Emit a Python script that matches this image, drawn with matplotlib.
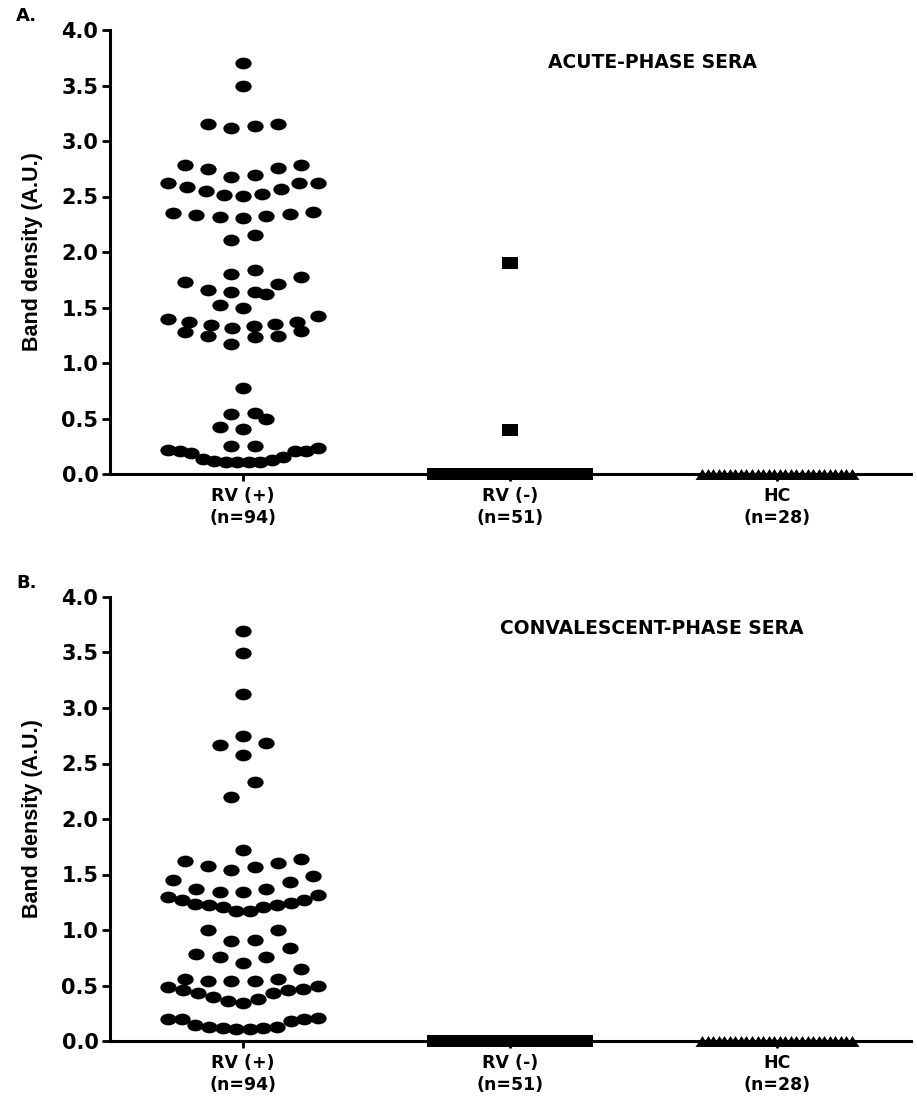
import numpy as np
import matplotlib
matplotlib.use("Agg")
import matplotlib.pyplot as plt
from matplotlib.path import Path

# --- data ---------------------------------------------------------------
GROUPS = ["RV (+)\n(n=94)", "RV (-)\n(n=51)", "HC\n(n=28)"]

acute_rv_pos = [
    3.70, 3.50, 3.157, 3.118, 3.133, 3.157,
    2.784, 2.754, 2.697, 2.673, 2.745, 2.784,
    2.626, 2.620, 2.566, 2.524, 2.506, 2.515, 2.554, 2.584, 2.626,
    2.351, 2.333, 2.312, 2.303, 2.321, 2.345, 2.363,
    2.112, 2.151,
    1.772, 1.841, 1.802, 1.731, 1.713, 1.638, 1.644, 1.662, 1.623, 1.527, 1.491,
    1.422, 1.371, 1.353, 1.332, 1.341, 1.371, 1.392,
    1.287, 1.243, 1.234, 1.168, 1.243, 1.281, 1.311,
    0.778, 0.545, 0.554, 0.419, 0.404, 0.500, 0.249, 0.249,
    0.219, 0.210, 0.189, 0.129, 0.114, 0.105, 0.105, 0.105, 0.111, 0.135,
    0.150, 0.210, 0.210, 0.234,
]
acute_rv_neg = [1.90, 0.40] + [0.0] * 49
acute_hc = [0.0] * 28

conv_rv_pos = [
    3.69, 3.494, 3.123,
    2.749, 2.683, 2.668, 2.578,
    2.332, 2.195,
    1.725,
    1.638, 1.602, 1.566, 1.542, 1.581, 1.626,
    1.485, 1.431, 1.452, 1.371, 1.341, 1.341, 1.371, 1.311, 1.296,
    1.272, 1.237, 1.228, 1.207, 1.168, 1.168, 1.207, 1.222, 1.243, 1.272,
    1.00, 1.00, 0.898, 0.907,
    0.781, 0.757, 0.707, 0.757, 0.838,
    0.653,
    0.563, 0.539, 0.539, 0.539, 0.557,
    0.488, 0.458, 0.428, 0.392, 0.362, 0.344, 0.377, 0.428, 0.458, 0.467, 0.497,
    0.195, 0.145, 0.130, 0.115, 0.200, 0.110, 0.110, 0.210, 0.120, 0.130,
    0.180, 0.195,
]
conv_rv_neg = [0.0] * 51
conv_hc = [0.0] * 28

# --- markers (the original figure is stretched horizontally) --------------
circ = Path.unit_circle()
ELLIPSE = Path(circ.vertices * [1.0, 0.72], circ.codes)
RECT = Path([(-1, -0.745), (1, -0.745), (1, 0.745), (-1, 0.745), (-1, -0.745)],
            [Path.MOVETO, Path.LINETO, Path.LINETO, Path.LINETO, Path.CLOSEPOLY])
TRI = Path([(-1, -0.785), (1, -0.785), (0, 0.785), (-1, -0.785)],
           [Path.MOVETO, Path.LINETO, Path.LINETO, Path.CLOSEPOLY])

PX_PER_X = 267.0          # pixels between category centres
SLOT = 23.3 / PX_PER_X    # spacing between neighbouring dots
MAX_HALF = 75.0 / PX_PER_X


def swarm_offsets(values, row_h):
    """Prism-like dot rows: lowest value in the middle, squeezed if too wide."""
    vals = np.asarray(values, dtype=float)
    order = np.argsort(vals, kind="stable")
    offs = np.zeros(len(vals))
    i = 0
    while i < len(order):
        start = vals[order[i]]
        j = i
        while j < len(order) and vals[order[j]] - start <= row_h:
            j += 1
        idx = order[i:j]
        n = len(idx)
        step = SLOT if n == 1 else min(SLOT, 2 * MAX_HALF / (n - 1))
        pos = (np.arange(n) - (n - 1) / 2) * step
        pos = pos[np.argsort(np.abs(pos) + 1e-9 * pos, kind="stable")]
        offs[idx] = pos
        i = j
    return offs


W, H = 917, 1110
fig = plt.figure(figsize=(W / 100, H / 100), dpi=100)
TXT = "DejaVu Sans"


def panel(bottom_px, series, row_h, title, letter, letter_y):
    ax = fig.add_axes([109.5 / W, 1 - bottom_px / H, 801 / W, 444 / H])
    markers = [(ELLIPSE, 138), (RECT, 128), (TRI, 100)]
    for k, vals in enumerate(series):
        m, s = markers[k]
        x = k + swarm_offsets(vals, row_h)
        ax.scatter(x, vals, marker=m, s=s, c="black", linewidths=0,
                   clip_on=False, zorder=3)
    ax.set_xlim(-0.5, 2.5)
    ax.set_ylim(0, 4)
    ax.set_yticks(np.arange(0, 4.01, 0.5))
    ax.set_yticklabels([f"{v:.1f}" for v in np.arange(0, 4.01, 0.5)],
                       family=TXT, fontweight="bold", fontsize=15)
    ax.set_xticks([0, 1, 2])
    ax.set_xticklabels(GROUPS, family=TXT, fontweight="bold", fontsize=12.5,
                       linespacing=1.3)
    for sp in ("top", "right"):
        ax.spines[sp].set_visible(False)
    for sp in ("left", "bottom"):
        ax.spines[sp].set_linewidth(2.2)
    ax.tick_params(axis="y", length=6, width=2, pad=2)
    ax.tick_params(axis="x", length=5, width=2, pad=4)
    ax.set_ylabel("Band density (A.U.)", family="Liberation Sans",
                  fontweight="bold", fontsize=15.5)
    ax.yaxis.set_label_coords(-0.083, 0.5)
    fig.text(652 / W, 1 - (bottom_px - 412) / H, title, ha="center", va="center",
             family=TXT, fontweight="bold", fontsize=13.5)
    fig.text(16 / W, 1 - letter_y / H, letter, ha="left", va="center",
             family=TXT, fontweight="bold", fontsize=13)
    return ax


panel(474, [acute_rv_pos, acute_rv_neg, acute_hc], 0.14,
      "ACUTE-PHASE SERA", "A.", 16)
panel(1041, [conv_rv_pos, conv_rv_neg, conv_hc], 0.16,
      "CONVALESCENT-PHASE SERA", "B.", 583)

fig.savefig("out.png", dpi=100)
